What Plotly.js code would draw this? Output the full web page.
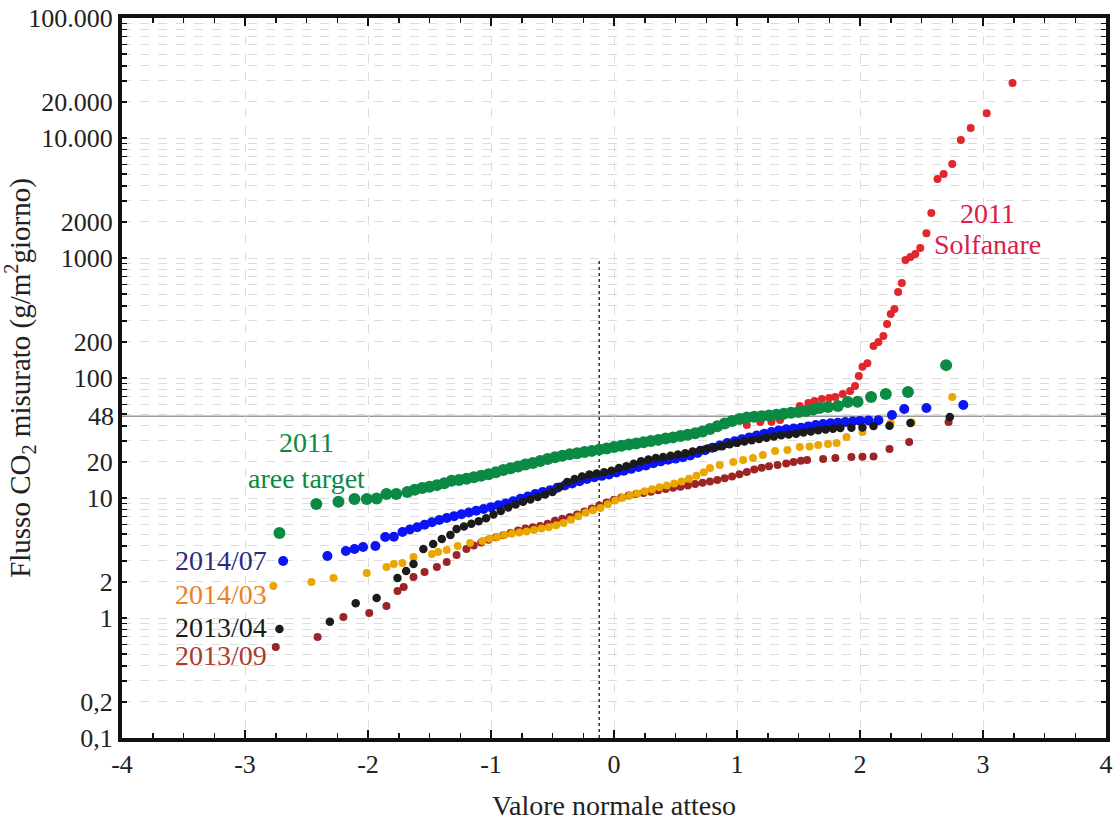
<!DOCTYPE html>
<html>
<head>
<meta charset="utf-8">
<script src="https://cdn.plot.ly/plotly-3.0.1.min.js"></script>
<style>
  html, body { margin: 0; padding: 0; background: #ffffff; }
  #chart { width: 1117px; height: 821px; }
</style>
</head>
<body>
<div id="chart"></div>
<script>
// ---------------- DATA ----------------
// 2011 Solfanare (red)
const solfanareX = [1.08, 1.19, 1.28, 1.35, 1.43, 1.51, 1.58, 1.63, 1.69, 1.75, 1.80, 1.86, 1.92, 1.96, 1.99, 2.02, 2.06, 2.11, 2.15, 2.19, 2.22, 2.25, 2.28, 2.31, 2.34, 2.37, 2.41, 2.45, 2.49, 2.54, 2.58, 2.63, 2.68, 2.75, 2.82, 2.90, 3.03, 3.24];
const solfanareY = [40.6, 43.0, 43.2, 44.7, 50.1, 58.4, 61.9, 64.3, 66.8, 68.1, 69.5, 73.6, 78.0, 85.8, 104, 124, 133, 185, 200, 224, 282, 341, 376, 521, 619, 962, 1020, 1080, 1210, 1610, 2370, 4550, 5010, 6070, 9620, 12100, 16100, 28700];

// 2013/09 (dark red)
const s201309X = [-2.75, -2.41, -2.20, -1.99, -1.85, -1.76, -1.71, -1.63, -1.54, -1.44, -1.36, -1.28,
  -1.20, -1.14, -1.08, -1.02, -0.96, -0.90, -0.84, -0.78, -0.72, -0.66, -0.60, -0.54, -0.48, -0.42, -0.36, -0.30, -0.24, -0.18, -0.12, -0.06,
  0.00, 0.06, 0.12, 0.18, 0.24, 0.30, 0.36, 0.42, 0.48, 0.54, 0.60, 0.66, 0.72, 0.78, 0.84, 0.90, 0.96, 1.02, 1.08, 1.14, 1.20, 1.26, 1.33, 1.40, 1.46, 1.52, 1.57,
  1.70, 1.80, 1.93, 2.02, 2.11, 2.24, 2.40, 2.72];
const s201309Y = [0.573, 0.695, 1.02, 1.10, 1.26, 1.68, 1.81, 2.20, 2.42, 2.66, 2.93, 3.35,
  3.76, 4.01, 4.25, 4.49, 4.70, 4.90, 5.11, 5.35, 5.56, 5.71, 5.85, 6.10, 6.46, 6.73, 6.95, 7.28, 7.71, 8.17, 8.67, 9.16,
  9.66, 10.1, 10.5, 10.8, 11.0, 11.3, 11.6, 11.9, 12.2, 12.4, 12.7, 13.1, 13.4, 13.7, 14.1, 14.6, 15.1, 15.8, 16.5, 17.3, 17.9, 18.4, 18.8, 19.4, 20.0, 20.4, 20.7,
  21.1, 21.5, 22.0, 22.1, 22.2, 25.6, 29.3, 43.0];

// 2014/03 (orange)
const s201403X = [-2.77, -2.46, -2.28, -2.01, -1.85, -1.79, -1.72, -1.63, -1.48, -1.43, -1.36, -1.27, -1.17,
  -1.07, -1.01, -0.95, -0.89, -0.83, -0.77, -0.71, -0.65, -0.59, -0.53, -0.47, -0.41, -0.35, -0.29, -0.23, -0.17, -0.11, -0.05,
  0.01, 0.07, 0.13, 0.19, 0.25, 0.31, 0.37, 0.43, 0.49, 0.55, 0.61, 0.67, 0.73, 0.78,
  0.86, 0.97, 1.05, 1.13, 1.21, 1.31, 1.41, 1.51, 1.59, 1.66, 1.74, 1.81, 1.89, 2.02, 2.11, 2.25, 2.42, 2.75];
const s201403Y = [1.85, 2.0, 2.15, 2.37, 2.66, 2.82, 2.87, 3.22, 3.41, 3.55, 3.69, 3.98, 4.22,
  4.38, 4.57, 4.74, 4.92, 5.05, 5.15, 5.27, 5.41, 5.56, 5.71, 5.92, 6.19, 6.58, 7.05, 7.55, 7.91, 8.26, 8.87,
  9.55, 10.05, 10.5, 10.9, 11.4, 11.8, 12.3, 12.7, 13.2, 13.7, 14.5, 15.3, 16.4, 17.8,
  18.8, 20.0, 20.7, 21.5, 22.8, 24.6, 25.1, 26.6, 26.8, 27.7, 28.2, 28.7, 32.2, 35.5, 39.8, 42.2, 42.5, 69.5];

// 2014/07 (blue)
const s201407X = [-2.69, -2.33, -2.18, -2.11, -2.04, -1.94, -1.86, -1.79,
  -1.72, -1.66, -1.60, -1.54, -1.48, -1.42, -1.36, -1.30, -1.24, -1.18, -1.12, -1.06, -1.00, -0.94, -0.88, -0.82, -0.76, -0.70, -0.64, -0.58, -0.52, -0.46, -0.40, -0.34, -0.28, -0.22, -0.16, -0.10, -0.04,
  0.02, 0.08, 0.14, 0.20, 0.26, 0.32, 0.38, 0.44, 0.50, 0.56, 0.62, 0.68, 0.74, 0.80, 0.86, 0.92, 0.98, 1.04, 1.10, 1.16, 1.22, 1.28, 1.34, 1.40, 1.46, 1.52, 1.58, 1.64, 1.70, 1.76, 1.82, 1.88, 1.94, 2.00, 2.07, 2.15,
  2.26, 2.36, 2.54, 2.84];
const s201407Y = [2.99, 3.29, 3.62, 3.76, 3.90, 3.98, 4.73, 4.75,
  5.21, 5.46, 5.71, 5.98, 6.27, 6.56, 6.81, 7.06, 7.31, 7.57, 7.83, 8.11, 8.39, 8.69, 9.02, 9.40, 9.84, 10.3, 10.8, 11.2, 11.6, 12.2, 12.7, 13.2, 13.8, 14.4, 14.9, 15.3, 15.7,
  16.3, 16.9, 17.5, 18.1, 18.7, 19.5, 20.2, 20.8, 21.3, 21.9, 22.6, 23.7, 25.0, 26.2, 27.4, 28.7, 29.7, 30.8, 32.0, 33.1, 34.3, 35.5, 36.6, 37.4, 37.9, 38.5, 39.5, 40.5, 41.4, 41.9, 42.4, 42.9, 43.4, 43.9, 44.2, 44.5,
  49.2, 55.2, 56.2, 59.6];

// 2013/04 (black)
const s201304X = [-2.72, -2.31, -2.10, -1.93, -1.76, -1.69, -1.63, -1.55, -1.47, -1.40, -1.33,
  -1.28, -1.22, -1.16, -1.10, -1.04, -0.98, -0.92, -0.86, -0.80, -0.74, -0.68, -0.62, -0.56, -0.50, -0.44, -0.38, -0.32, -0.26, -0.20, -0.14, -0.08, -0.02,
  0.04, 0.10, 0.16, 0.22, 0.28, 0.34, 0.40, 0.46, 0.52, 0.58, 0.64, 0.70, 0.76, 0.82, 0.88, 0.94, 1.00, 1.06, 1.12, 1.18, 1.24, 1.30, 1.36, 1.42, 1.48, 1.54, 1.60, 1.66, 1.72, 1.78, 1.84,
  1.93, 2.02, 2.11, 2.24, 2.41, 2.73];
const s201304Y = [0.81, 0.93, 1.33, 1.47, 2.15, 2.46, 2.82, 3.76, 4.14, 4.55, 4.92,
  5.52, 5.78, 6.11, 6.40, 6.79, 7.28, 7.80, 8.34, 8.83, 9.29, 9.73, 10.2, 10.7, 11.2, 12.4, 13.6, 14.4, 15.1, 15.7, 16.0, 16.4, 16.9,
  17.8, 18.4, 19.3, 20.2, 20.9, 21.5, 22.0, 22.5, 23.0, 23.6, 24.4, 25.1, 25.8, 26.4, 27.0, 28.0, 28.8, 29.6, 30.3, 31.0, 31.8, 32.5, 33.3, 33.9, 34.3, 35.1, 35.9, 36.7, 37.3, 37.8, 38.3,
  38.5, 38.7, 39.8, 40.0, 42.2, 47.3];

// 2011 aree target (green)
const areeTargetX = [-2.72, -2.42, -2.24, -2.11, -2.01, -1.93, -1.85, -1.77,
  -1.68, -1.62, -1.56, -1.50, -1.44, -1.38, -1.32, -1.26, -1.20, -1.14, -1.08, -1.02, -0.96, -0.90, -0.84, -0.78, -0.72, -0.66, -0.60, -0.54, -0.48, -0.42, -0.36, -0.30, -0.24, -0.18, -0.12, -0.06,
  0.00, 0.06, 0.12, 0.18, 0.24, 0.30, 0.36, 0.42, 0.48, 0.54, 0.60, 0.66, 0.72, 0.78, 0.84, 0.90, 0.96, 1.02, 1.08, 1.14, 1.20, 1.26, 1.32, 1.38, 1.44, 1.50, 1.56, 1.62, 1.67,
  1.74, 1.82, 1.90, 1.98, 2.09, 2.21, 2.39, 2.70];
const areeTargetY = [5.1, 8.9, 9.3, 9.8, 9.8, 9.9, 10.8, 10.8,
  11.2, 11.7, 12.1, 12.4, 12.8, 13.3, 13.9, 14.1, 14.5, 14.9, 15.3, 15.8, 16.4, 17.1, 17.7, 18.3, 19.0, 19.6, 20.3, 21.1, 21.9, 22.5, 23.1, 23.6, 24.2, 24.7, 25.3, 25.9,
  26.6, 27.2, 27.9, 28.5, 29.2, 29.9, 30.5, 31.3, 32.0, 32.9, 33.7, 34.7, 35.9, 37.6, 39.6, 41.8, 43.8, 45.6, 46.8, 47.5, 48.0, 48.6, 49.4, 50.4, 51.3, 52.0, 53.2, 54.5, 56.2,
  57.3, 58.4, 63.1, 63.5, 69.5, 73.6, 76.4, 128];

// Reference lines
const THRESHOLD = 48;          // horizontal line (labelled "48")
const DOTTED_X = -0.12;        // vertical dotted line position
const DOTTED_Y = [0.1, 1000];  // its extent

// Axis ranges and tick labels
const X_RANGE = [-4, 4];
const Y_RANGE_LOG = [-1, 5];
const xTickVals = [-4, -3, -2, -1, 0, 1, 2, 3, 4];
const xTickText = ['-4', '-3', '-2', '-1', '0', '1', '2', '3', '4'];
const yTickVals = [0.1, 0.2, 1, 2, 10, 20, 100, 200, 1000, 2000, 10000, 20000, 100000];
const yTickText = ['0,1', '0,2', '1', '2', '10', '20', '100', '200', '1000', '2000', '10.000', '20.000', '100.000'];
const GRID_MULTIPLES = [1, 2, 3, 4, 5, 6, 7, 8, 9];   // gridlines at these multiples of each decade

// ---------------- CHART ----------------
const FONT = 'Liberation Serif, Times New Roman, serif';

// full set of y grid/tick positions, labelled only where the reference has a label
const yAllVals = [], yAllText = [];
for (let e = Y_RANGE_LOG[0]; e < Y_RANGE_LOG[1]; e++) {
  GRID_MULTIPLES.forEach(m => {
    const v = +(m * Math.pow(10, e)).toPrecision(3);
    const i = yTickVals.findIndex(t => Math.abs(t - v) / v < 1e-6);
    yAllVals.push(v); yAllText.push(i >= 0 ? yTickText[i] : '');
  });
}
yAllVals.push(Math.pow(10, Y_RANGE_LOG[1])); yAllText.push(yTickText[yTickText.length - 1]);

function series(x, y, color, size) {
  return { type: 'scatter', mode: 'markers', x: x, y: y, hoverinfo: 'x+y',
           marker: { color: color, size: size, line: { width: 0 } }, showlegend: false };
}

const traces = [
  series(solfanareX, solfanareY, '#e1262c', 8),
  series(s201309X, s201309Y, '#9c2326', 8),
  series(s201403X, s201403Y, '#eaa700', 8),
  series(s201407X, s201407Y, '#0a14f5', 10),
  series(s201304X, s201304Y, '#1b1b1b', 8.5),
  series(areeTargetX, areeTargetY, '#0a8a42', 12)
];

const gridStyle = { gridcolor: '#dcdcdc', griddash: 'dash', gridwidth: 1 };

function ann(text, x, y, color) {
  return { text: text, xref: 'paper', yref: 'paper', x: x, y: y, showarrow: false,
           xanchor: 'center', yanchor: 'middle', font: { family: FONT, size: 28, color: color } };
}

const layout = {
  width: 1117, height: 821,
  margin: { l: 122, r: 11, t: 18, b: 83 },
  paper_bgcolor: '#ffffff', plot_bgcolor: '#ffffff',
  font: { family: FONT, size: 26, color: '#222' },
  showlegend: false,
  xaxis: {
    range: X_RANGE, tickmode: 'array', tickvals: xTickVals, ticktext: xTickText, zeroline: false,
    showline: true, linewidth: 4, linecolor: '#111', mirror: 'allticks',
    ticks: 'inside', ticklen: 8, tickwidth: 2, tickcolor: '#111',
    showgrid: true, ...gridStyle,
    minor: { tickmode: 'linear', tick0: 0, dtick: 0.25, ticks: 'inside', ticklen: 5, tickwidth: 1.5, tickcolor: '#111', showgrid: false },
    tickfont: { family: FONT, size: 26, color: '#222' },
    title: { text: 'Valore normale atteso', font: { family: FONT, size: 28, color: '#222' }, standoff: 20 }
  },
  yaxis: {
    type: 'log', range: Y_RANGE_LOG, tickmode: 'array', tickvals: yAllVals, ticktext: yAllText,
    zeroline: false, showline: true, linewidth: 4, linecolor: '#111', mirror: 'allticks',
    ticks: 'inside', ticklen: 5, tickwidth: 1.5, tickcolor: '#111',
    showgrid: true, ...gridStyle,
    tickfont: { family: FONT, size: 26, color: '#222' },
    title: { text: 'Flusso CO<sub>2</sub> misurato (g/m<sup>2</sup>giorno)', font: { family: FONT, size: 29, color: '#222' }, standoff: 6 }
  },
  shapes: [
    { type: 'line', xref: 'paper', yref: 'y', x0: 0, x1: 1, y0: THRESHOLD, y1: THRESHOLD,
      line: { color: '#9a9a9a', width: 1.5 }, layer: 'between' },
    { type: 'line', xref: 'x', yref: 'y', x0: DOTTED_X, x1: DOTTED_X, y0: DOTTED_Y[0], y1: DOTTED_Y[1],
      line: { color: '#333', width: 1.5, dash: 'dot' }, layer: 'between' }
  ],
  annotations: [
    { text: String(THRESHOLD), xref: 'paper', yref: 'y', x: 0, y: Math.log10(THRESHOLD), xanchor: 'right', yanchor: 'middle',
      xshift: -6, showarrow: false, font: { family: FONT, size: 26, color: '#222' } },
    ann('2011', 0.187, 0.410, '#0a8a42'),
    ann('aree target', 0.187, 0.361, '#0a8a42'),
    ann('2014/07', 0.1006, 0.247, '#2d2a82'),
    ann('2014/03', 0.1006, 0.200, '#ee821e'),
    ann('2013/04', 0.1006, 0.154, '#1b1b1b'),
    ann('2013/09', 0.1006, 0.115, '#b0392e'),
    ann('2011', 0.880, 0.729, '#d9204b'),
    ann('Solfanare', 0.880, 0.685, '#d9204b')
  ]
};

Plotly.newPlot('chart', traces, layout, { displayModeBar: false, staticPlot: true });
</script>
</body>
</html>
